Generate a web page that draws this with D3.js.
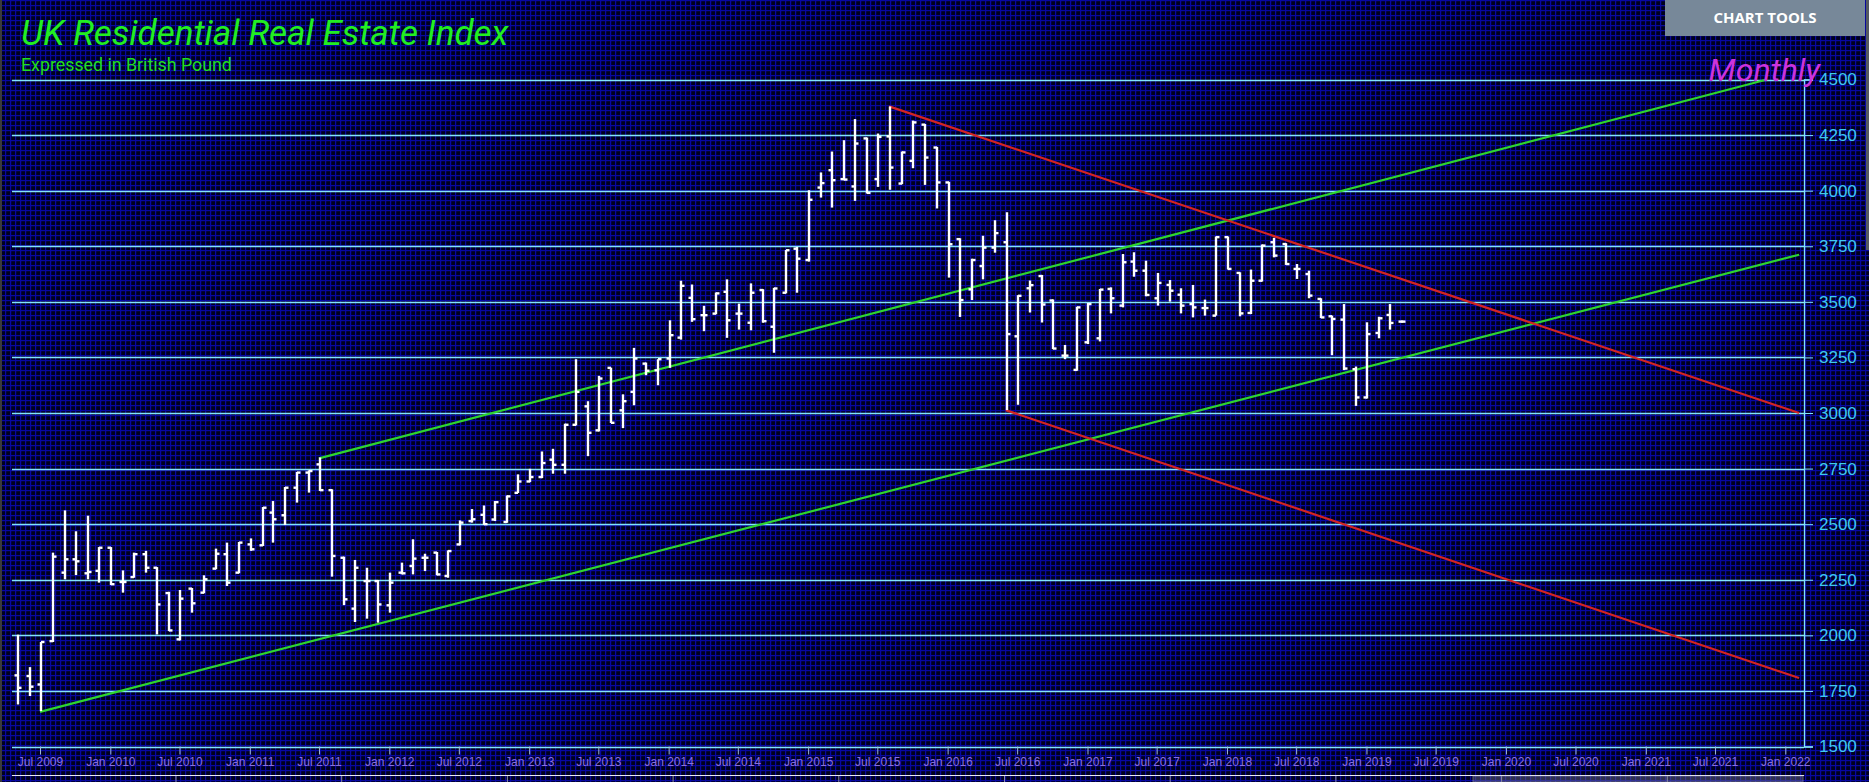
<!DOCTYPE html>
<html>
<head>
<meta charset="utf-8">
<script src="https://cdn.jsdelivr.net/npm/d3@7"></script>
<style>
  html, body { margin: 0; padding: 0; background: #000030; overflow: hidden; }
  svg { display: block; }
</style>
</head>
<body>
<svg id="chart" width="1869" height="782"></svg>
<script>
// ---------- DATA ----------
const startMonth = "2009-05-01";   // first monthly bar
const openVals = [
  1820,1817,1779,1974,2282,2342,2279,2290,
  2394,2240,2262,2365,2304,2190,1982,2210,2192,2300,2365,2282,
  2409,2405,2552,2540,2664,2732,2769,2653,2349,2120,2244,2244,
  2135,2282,2312,2349,2372,2267,2409,2514,2542,2521,2510,2641,
  2692,2712,2790,2767,2947,3030,2922,3203,3012,3095,3222,3192,
  3245,3339,3518,3440,3447,3545,3447,3406,3553,3388,3541,3739,
  3688,4014,4092,4052,4019,4235,4052,4244,4032,4134,4297,4194,
  4037,3782,3556,3661,3744,3768,3345,3561,3616,3506,3258,3194,
  3318,3336,3558,3483,3681,3640,3516,3576,3532,3490,3472,3438,
  3791,3630,3450,3595,3768,3760,3648,3625,3513,3435,3420,3197,
  3070,3360,3441,3411
];
const highVals = [
  2003,1857,1970,2372,2562,2468,2538,2397,
  2397,2292,2372,2380,2307,2196,2204,2213,2270,2390,2417,2420,
  2436,2577,2604,2667,2735,2742,2800,2657,2354,2339,2304,2249,
  2282,2327,2432,2367,2375,2382,2517,2568,2584,2604,2629,2724,
  2749,2827,2839,2952,3242,3053,3167,3204,3084,3293,3227,3242,
  3417,3595,3578,3482,3542,3601,3492,3583,3557,3563,3733,3747,
  4002,4082,4176,4227,4322,4239,4257,4379,4176,4315,4300,4197,
  4040,3786,3694,3797,3867,3903,3530,3596,3621,3511,3306,3478,
  3495,3558,3565,3715,3723,3685,3630,3598,3561,3576,3510,3794,
  3794,3633,3645,3758,3788,3764,3670,3640,3516,3438,3490,3209,
  3408,3433,3490,3411
];
const lowVals = [
  1689,1727,1659,1970,2252,2271,2252,2237,
  2226,2192,2259,2282,2004,2019,1977,2102,2189,2297,2222,2279,
  2380,2402,2417,2496,2597,2642,2649,2264,2136,2060,2075,2057,
  2102,2274,2274,2289,2270,2259,2405,2507,2497,2514,2506,2640,
  2689,2707,2727,2727,2944,2806,2917,2955,2932,3035,3170,3125,
  3203,3330,3410,3368,3444,3338,3375,3372,3406,3271,3538,3541,
  3681,3969,3924,4047,3954,3987,4017,4004,4029,4101,4026,3920,
  3609,3432,3508,3601,3721,3013,3037,3452,3407,3287,3242,3190,
  3310,3322,3448,3475,3613,3525,3483,3501,3448,3430,3438,3438,
  3645,3435,3445,3591,3700,3666,3603,3516,3427,3260,3193,3032,
  3065,3336,3375,3411
];
const closeVals = [
  1764,1769,1970,2354,2342,2333,2285,2394,
  2230,2240,2365,2304,2139,2022,2165,2144,2252,2367,2237,2417,
  2387,2574,2522,2664,2732,2739,2653,2357,2162,2304,2244,2139,
  2237,2279,2345,2349,2274,2379,2507,2522,2500,2599,2625,2692,
  2712,2775,2767,2947,3095,2911,3155,2956,3053,3245,3190,3242,
  3350,3572,3422,3440,3538,3417,3447,3541,3413,3560,3732,3694,
  3959,4034,4047,4050,4212,3990,4242,4104,4172,4307,4149,4037,
  3759,3508,3688,3744,3809,3355,3527,3575,3488,3290,3258,3475,
  3490,3555,3516,3678,3640,3531,3585,3550,3483,3475,3472,3791,
  3648,3448,3595,3753,3708,3670,3648,3528,3430,3423,3200,3070,
  3355,3426,3405,3411
];
const yTickValues = [1500,1750,2000,2250,2500,2750,3000,3250,3500,3750,4000,4250,4500];
const greenLines = [
  [["2009-07-01", 1656], ["2022-02-06", 3712]],
  [["2011-07-01", 2796], ["2021-11-14", 4500]]
];
const redLines = [
  [["2015-08-01", 4379], ["2022-02-06", 3000]],
  [["2016-06-01", 3013], ["2022-02-06", 1808]]
];
const titleText = "UK Residential Real Estate Index";
const subtitleText = "Expressed in British Pound";
const periodText = "Monthly";
const toolsText = "CHART TOOLS";

// ---------- LAYOUT ----------
const W = 1869, H = 782;
const plotLeft = 12, plotRight = 1804;
const parse = d3.utcParse("%Y-%m-%d");
const x = d3.scaleUtc()
  .domain([parse("2009-07-01"), parse("2022-01-01")])
  .range([40, 1785.3]);
const y = d3.scaleLinear().domain([1500, 4500]).range([746.5, 79.5]);

const svg = d3.select("#chart");
const defs = svg.append("defs");
const pat = defs.append("pattern").attr("id", "grid")
  .attr("width", 5).attr("height", 5).attr("patternUnits", "userSpaceOnUse");
pat.append("rect").attr("width", 5).attr("height", 5).attr("fill", "#00001e");
pat.append("rect").attr("x", 0).attr("y", 0).attr("width", 5).attr("height", 1.2).attr("fill", "#0808a0");
pat.append("rect").attr("x", 0).attr("y", 0).attr("width", 1.2).attr("height", 5).attr("fill", "#0808a0");

svg.append("rect").attr("width", W).attr("height", H).attr("fill", "url(#grid)");
// left border strip
svg.append("rect").attr("x", 0).attr("y", 0).attr("width", 2).attr("height", H).attr("fill", "#3a3a3a");
// right scroll strip
svg.append("rect").attr("x", 1866).attr("y", 0).attr("width", 3).attr("height", 250).attr("fill", "#555a60");

// gridlines
svg.append("g").selectAll("line").data(yTickValues).join("line")
  .attr("x1", plotLeft).attr("x2", plotRight)
  .attr("y1", d => Math.round(y(d)) + 0.5).attr("y2", d => Math.round(y(d)) + 0.5)
  .attr("stroke", "#82e4fa").attr("stroke-width", 1.3);

// y axis (right)
const yAxis = d3.axisRight(y).tickValues(yTickValues).tickFormat(d3.format("d")).tickSize(9).tickPadding(6);
const gy = svg.append("g").attr("transform", `translate(${plotRight},0)`).call(yAxis);
gy.select(".domain").attr("stroke", "#82e4fa").attr("stroke-width", 1.3);
gy.selectAll(".tick line").attr("stroke", "#82e4fa");
gy.selectAll(".tick text").attr("fill", "#3fc8f0")
  .style("font-family", "'Liberation Sans', Arial, sans-serif").style("font-size", "17px");

// x axis
const xAxis = d3.axisBottom(x).ticks(d3.utcMonth.every(6)).tickFormat(d3.utcFormat("%b %Y")).tickSize(8).tickPadding(3);
const gx = svg.append("g").attr("transform", `translate(0,${y(1500)})`).call(xAxis);
gx.select(".domain").remove();
gx.selectAll(".tick").filter(d => x(d) < plotLeft || x(d) > plotRight).remove();
gx.selectAll(".tick line").attr("stroke", "#9fb8d8");
gx.selectAll(".tick text").attr("fill", "#8a70e0")
  .style("font-family", "'Liberation Sans Narrow', 'Arial Narrow', sans-serif").style("font-size", "12px");

// trend lines
const lineGen = d3.line().x(d => x(parse(d[0]))).y(d => y(d[1]));
svg.append("g").selectAll("path").data(greenLines).join("path")
  .attr("d", lineGen).attr("fill", "none").attr("stroke", "#2fd52f").attr("stroke-width", 2.2);
svg.append("g").selectAll("path").data(redLines).join("path")
  .attr("d", lineGen).attr("fill", "none").attr("stroke", "#d42424").attr("stroke-width", 2.2);

// OHLC bars
const months = d3.utcMonth.range(parse(startMonth), d3.utcMonth.offset(parse(startMonth), openVals.length));
const bars = months.map((d, i) => ({ date: d, o: openVals[i], h: highVals[i], l: lowVals[i], c: closeVals[i] }));
const gb = svg.append("g").attr("stroke", "#ffffff").attr("stroke-width", 2.4).attr("fill", "none");
const bx = d => Math.round(x(d.date)) + 1;
gb.selectAll("line.hl").data(bars).join("line").attr("class", "hl")
  .attr("x1", bx).attr("x2", bx)
  .attr("y1", d => y(d.h) - (d.h === d.l ? 1 : 0)).attr("y2", d => y(d.l) + (d.h === d.l ? 1 : 0));
gb.selectAll("line.op").data(bars).join("line").attr("class", "op")
  .attr("x1", d => bx(d) - 3.5).attr("x2", d => bx(d))
  .attr("y1", d => y(d.o)).attr("y2", d => y(d.o));
gb.selectAll("line.cl").data(bars).join("line").attr("class", "cl")
  .attr("x1", d => bx(d)).attr("x2", d => bx(d) + 3.5)
  .attr("y1", d => y(d.c)).attr("y2", d => y(d.c));

// navigator top edge
svg.append("line").attr("x1", plotLeft).attr("x2", plotRight).attr("y1", 775.5).attr("y2", 775.5)
  .attr("stroke", "#e8e8f0").attr("stroke-width", 1.2);
svg.append("rect").attr("x", 1473).attr("y", 776).attr("width", 330).attr("height", 6)
  .attr("fill", "#6a6a88").attr("opacity", 0.45).attr("stroke", "#c8c8d8").attr("stroke-width", 1);
svg.append("g").selectAll("line").data(d3.range(176, 1804, 165.7)).join("line")
  .attr("x1", d => d).attr("x2", d => d).attr("y1", 776).attr("y2", 782)
  .attr("stroke", "#8888a0").attr("stroke-width", 1);

// titles
svg.append("text").attr("x", 21).attr("y", 45).text(titleText)
  .attr("fill", "#22ee22").style("font-family", "Roboto, sans-serif").style("font-style", "italic").style("font-size", "35px");
svg.append("text").attr("x", 21).attr("y", 71).text(subtitleText)
  .attr("fill", "#22dd22").style("font-family", "Roboto, sans-serif").style("font-size", "17.8px");
svg.append("text").attr("x", 1820).attr("y", 81).attr("text-anchor", "end").text(periodText)
  .attr("fill", "#cc33dd").style("font-family", "Roboto, sans-serif").style("font-style", "italic").style("font-size", "32px");

// chart tools button
svg.append("rect").attr("x", 1665).attr("y", 0).attr("width", 200).attr("height", 36).attr("fill", "#778899");
svg.append("text").attr("x", 1765).attr("y", 23).attr("text-anchor", "middle").text(toolsText)
  .attr("fill", "#ffffff").style("font-family", "'Open Sans', sans-serif").style("font-weight", "700").style("font-size", "15px");
</script>
</body>
</html>
